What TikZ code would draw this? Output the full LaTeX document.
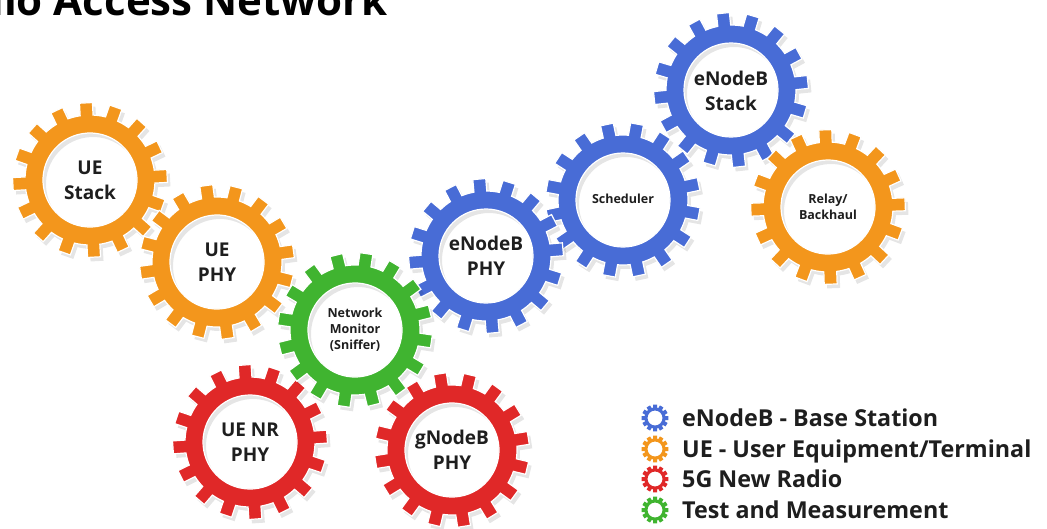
\documentclass[tikz,border=0pt]{standalone}
\usepackage{fontspec}
\setmainfont{Open Sans}
\definecolor{gorange}{RGB}{243,150,28}
\definecolor{gblue}{RGB}{72,108,214}
\definecolor{gred}{RGB}{224,40,40}
\definecolor{ggreen}{RGB}{64,180,48}
\definecolor{txt}{RGB}{30,30,30}
\def\bigGearPath{(-5.7:65) \foreach \i in {0,...,15}{ -- (\i*22.5-5.7:65) -- (\i*22.5-4.8:77.5) -- (\i*22.5+4.8:77.5) -- (\i*22.5+5.7:65) arc[start angle=\i*22.5+5.7, end angle=\i*22.5+16.8, radius=65]} -- cycle (0,0) circle[radius=47]}
\def\smallGearPath{(-11:10.5) \foreach \i in {0,...,11}{ -- (\i*30-11:10.5) -- (\i*30-8.5:13.5) -- (\i*30+8.5:13.5) -- (\i*30+11:10.5) arc[start angle=\i*30+11, end angle=\i*30+19, radius=10.5]} -- cycle (0,0) circle[radius=7.5]}
\newcommand\BigGear[4]{%
  \begin{scope}[shift={(#1,#2)}]
    \begin{scope}[shift={(3,4)},rotate=#3]
      \fill[black,opacity=0.10,even odd rule] \bigGearPath;
    \end{scope}
    \begin{scope}[rotate=#3]
      \filldraw[fill=#4,draw=white,line width=1.2pt,even odd rule] \bigGearPath;
    \end{scope}
  \end{scope}}
\newcommand\SmallGear[3]{%
  \begin{scope}[shift={(#1,#2)}]
    \fill[#3,even odd rule] \smallGearPath;
  \end{scope}}
\tikzset{
  biglabel/.style={align=center,text=txt,font=\fontsize{19}{25}\selectfont\bfseries},
  smalllabel/.style={align=center,text=txt,font=\fontsize{12.5}{16}\selectfont\bfseries},
  legendtext/.style={anchor=base west,text=txt,inner sep=0pt,font=\fontsize{23.3}{27}\selectfont\bfseries},
}
\begin{document}
\begin{tikzpicture}[x=1pt,y=-1pt]
\useasboundingbox (0,0) rectangle (1047,528);
\clip (0,0) rectangle (1047,528);
\fill[white] (0,0) rectangle (1047,528);
\node[anchor=base east,inner sep=0pt,text=black,font=\fontsize{42}{46}\selectfont\bfseries] (title) at (388,15) {Radio Access Network};
% gears
\BigGear{90}{180}{3}{gorange}
\BigGear{217}{262}{8}{gorange}
\BigGear{731}{90}{6}{gblue}
\BigGear{828}{207}{2}{gorange}
\BigGear{623}{200}{12}{gblue}
\BigGear{486}{256}{5}{gblue}
\BigGear{250}{442}{4}{gred}
\BigGear{452}{450}{9}{gred}
\BigGear{355}{330}{14}{ggreen}
% labels
\node[biglabel] (uestack) at (90,180) {UE\\Stack};
\node[biglabel] (uephy) at (217,262) {UE\\PHY};
\node[biglabel] (enbstack) at (731,91) {eNodeB\\Stack};
\node[smalllabel] (relay) at (828,207) {Relay/\\Backhaul};
\node[smalllabel] (sched) at (623,199) {Scheduler};
\node[biglabel] (enbphy) at (486,256) {eNodeB\\PHY};
\node[biglabel] (uenrphy) at (250,442) {UE NR\\PHY};
\node[biglabel] (gnbphy) at (452,450) {gNodeB\\PHY};
\node[smalllabel] (netmon) at (355,330) {Network\\Monitor\\(Sniffer)};
% legend
\SmallGear{655}{418}{gblue}
\SmallGear{655}{449}{gorange}
\SmallGear{655}{479}{gred}
\SmallGear{655}{510}{ggreen}
\node[legendtext] (l1) at (682,426) {eNodeB - Base Station};
\node[legendtext] (l2) at (682,457) {UE - User Equipment/Terminal};
\node[legendtext] (l3) at (682,487) {5G New Radio};
\node[legendtext] (l4) at (682,518) {Test and Measurement};
\end{tikzpicture}
\end{document}
